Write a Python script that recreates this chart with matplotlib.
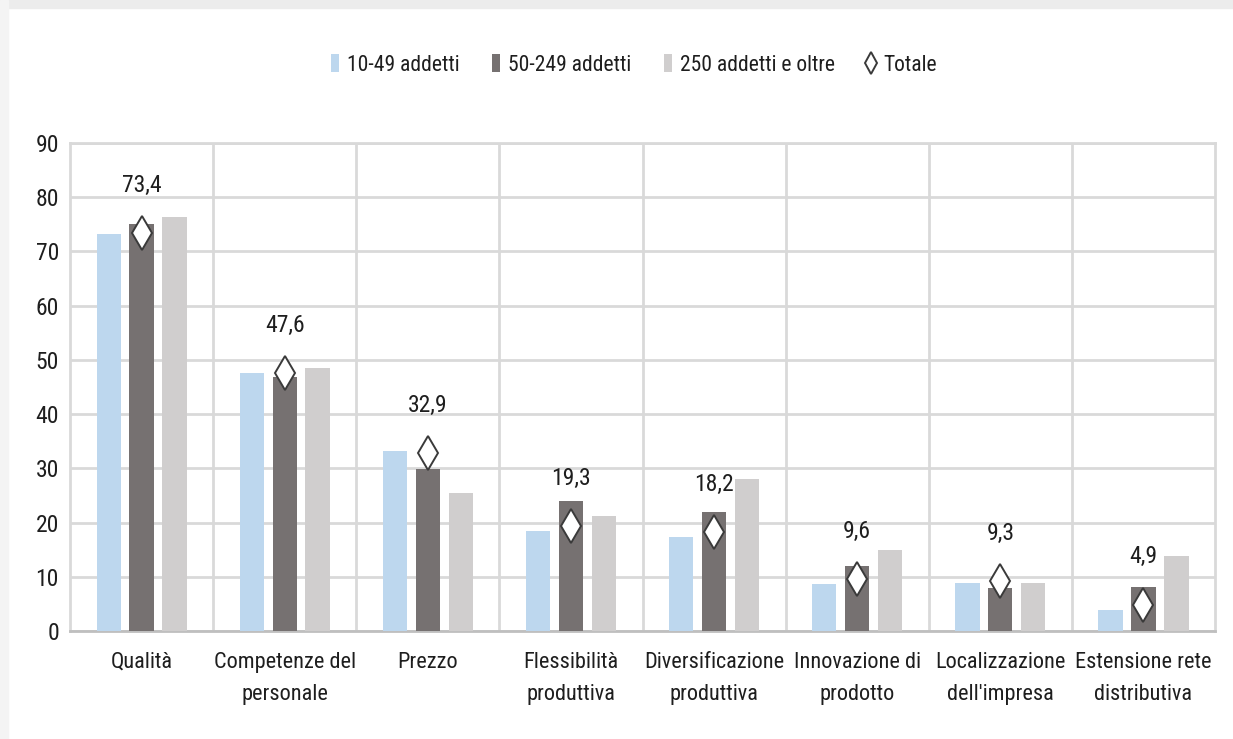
import numpy as np
import matplotlib
matplotlib.use("Agg")
import matplotlib.pyplot as plt
from matplotlib.patches import Rectangle

plt.rcParams['font.family'] = ['Roboto Condensed', 'Liberation Sans Narrow', 'Liberation Sans',
                               'DejaVu Sans']

categories = ['Qualità', 'Competenze del\npersonale', 'Prezzo', 'Flessibilità\nproduttiva',
              'Diversificazione\nproduttiva', 'Innovazione di\nprodotto',
              'Localizzazione\ndell\'impresa', 'Estensione rete\ndistributiva']
small = [73.3, 47.5, 33.3, 18.4, 17.3, 8.6, 8.9, 3.8]       # 10-49 addetti
medium = [75.1, 46.8, 29.9, 23.9, 22.0, 12.0, 7.9, 8.2]     # 50-249 addetti
large = [76.4, 48.6, 25.4, 21.3, 28.1, 14.9, 8.9, 13.9]     # 250 addetti e oltre
totale = [73.4, 47.6, 32.9, 19.3, 18.2, 9.6, 9.3, 4.9]

c_small = '#BDD7EE'
c_medium = '#767171'
c_large = '#D0CECE'
grid_c = '#D9D9D9'
txt_c = '#1E1E1E'

fig = plt.figure(figsize=(12.33, 7.39), dpi=100)
ax = fig.add_axes([0.0568, 0.146, 0.9286, 0.6605])

# light grey frame strip along top and left edge
fig.patches.append(Rectangle((0, 0.989), 1, 0.011, transform=fig.transFigure,
                             color='#ECECEC', zorder=0))
fig.patches.append(Rectangle((0, 0), 0.0065, 1, transform=fig.transFigure,
                             color='#F4F4F4', zorder=0))

x = np.arange(len(categories))
w = 0.17
step = 0.23
b1 = ax.bar(x - step, small, w, color=c_small, zorder=3)
b2 = ax.bar(x, medium, w, color=c_medium, zorder=3)
b3 = ax.bar(x + step, large, w, color=c_large, zorder=3)
tot, = ax.plot(x, totale, linestyle='none', marker='d', markersize=17,
               markerfacecolor='white', markeredgecolor='#3A3A3A', markeredgewidth=1.4,
               zorder=4)

for xi, t in zip(x, totale):
    ax.annotate(f'{t:.1f}'.replace('.', ','), (xi, t), xytext=(0, 26),
                textcoords='offset points', ha='center', va='bottom',
                fontsize=17, color=txt_c)

ax.set_xlim(-0.5, len(categories) - 0.5)
ax.set_ylim(0, 90)
ax.set_yticks(np.arange(0, 91, 10))
ax.set_xticks(x)
ax.set_xticklabels(categories, fontsize=16, color=txt_c, linespacing=1.7)
ax.tick_params(axis='y', labelsize=17, labelcolor=txt_c, length=0, pad=8)
ax.tick_params(axis='x', length=0, pad=15)

ax.yaxis.grid(True, color=grid_c, linewidth=2, zorder=0)
for b in np.arange(0.5, len(categories) - 1, 1):
    ax.axvline(b, color=grid_c, linewidth=2, zorder=0)
for s in ['top', 'left', 'right']:
    ax.spines[s].set_color(grid_c)
    ax.spines[s].set_linewidth(2)
ax.spines['bottom'].set_color('#BFBFBF')
ax.spines['bottom'].set_linewidth(2)

leg = fig.legend([b1, b2, b3, tot],
                 ['10-49 addetti', '50-249 addetti', '250 addetti e oltre', 'Totale'],
                 loc='center', bbox_to_anchor=(0.514, 0.912), ncol=4, frameon=False,
                 fontsize=15.5, handlelength=0.4, handleheight=0.9, handletextpad=0.35,
                 columnspacing=1.5, labelcolor=txt_c)
leg.legend_handles[3].set_markersize(11)

fig.savefig('out.png', dpi=100, facecolor='white')
